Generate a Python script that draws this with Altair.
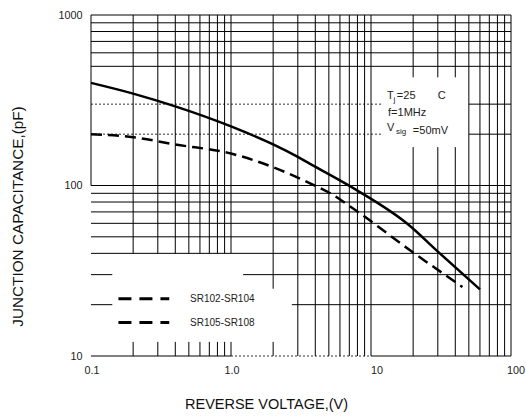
import altair as alt
import pandas as pd

# ---- curves (reverse voltage V, junction capacitance pF) ----
v_a = [0.1, 0.2, 0.4, 1.0, 2.0, 3.0, 3.67, 7.9, 18, 31, 60]
c_a = [400, 346, 291, 222, 174, 147, 134, 94, 60, 40, 24.6]
v_b = [0.1, 0.2, 0.4, 1.0, 2.0, 3.67, 5.0, 7.5, 19, 45]
c_b = [200, 192, 174, 154, 128, 103, 91, 73, 41.7, 25.4]

# ---- tick labels ----
x_tick_v = [0.1, 1, 10, 100]
x_tick_lab = ["0.1", "1.0", "10", "100"]
x_tick_align = ["center", "center", "left", "right"]

# ---- grid segments (data units) ----
h_c    = [1000, 900, 800, 700, 600, 500, 100, 90, 80, 70, 60, 50, 40,
          300, 200, 30, 30, 20, 20, 10, 10]
h_from = [0.1] * 13 + [50, 50, 0.1, 1.22, 0.1, 2.72, 0.1, 10]
h_to   = [100] * 13 + [100, 100, 0.142, 100, 0.142, 100, 1.0, 100]

hd_c    = [300, 200, 10]
hd_from = [0.1, 0.1, 1.0]
hd_to   = [12, 12, 10]

full_v = [3, 4, 5, 6, 7, 8, 9, 10, 50, 60, 70, 80, 90, 100]
short_v = [0.2, 0.3, 0.4, 0.5, 0.6, 0.7, 0.8, 0.9, 1.0]
vg_v = full_v + [0.1] + short_v + short_v + [2, 2] + [20, 30, 40] * 2
vg_from = [10] * len(full_v) + [100] + [40] * 9 + [10] * 9 + [24.8, 10] + [10] * 3 + [431] * 3
vg_to = [1000] * len(full_v) + [1000] + [1000] * 9 + [12.1] * 9 + [1000, 12.1] + [168] * 3 + [1000] * 3

# ---- legend ----
leg_labels = ["SR102-SR104", "SR105-SR108"]
leg_c = [21.7, 15.7]
leg_v1, leg_v2, leg_vt = 0.157, 0.362, 0.51

# ---- annotation ----
ann_text = ["T", "j", "=25", "C", "f=1MHz", "V", "sig", "=50mV"]
ann_v = [13.0, 14.5, 15.3, 30.0, 13.24, 13.0, 15.1, 19.9]
ann_c = [320, 307, 320, 320, 255.6, 210, 201, 199.7]
ann_s = [11, 8, 11, 11, 11, 11, 8, 11]

FONT = "Liberation Sans"
XS = alt.Scale(type="log", domain=[0.1, 100], nice=False)
YS = alt.Scale(type="log", domain=[10, 1000], nice=False)

X_AX = alt.Axis(
    values=[0.1, 1, 10, 100], labels=False,
    ticks=False, domain=False, grid=False,
    title="REVERSE VOLTAGE,(V)", titleFont=FONT, titleFontSize=14.5,
    titleFontWeight="normal", titleColor="#111",
    titleX=175, titleY=48, titleAlign="center", titleBaseline="middle",
)
Y_AX = alt.Axis(
    values=[10, 100, 1000],
    labelExpr="datum.value < 50 ? '10' : datum.value < 500 ? '100' : '1000'",
    labelFlush=False, ticks=False, domain=False, grid=False,
    labelPadding=9, labelFontSize=10.8, labelFont=FONT, labelColor="#222",
    title="JUNCTION CAPACITANCE,(pF)", titleFont=FONT, titleFontSize=15.3,
    titleFontWeight="normal", titleColor="#111", titleAngle=270,
    titleX=-74, titleY=201, titleAlign="center", titleBaseline="middle",
)


def X(f):
    return alt.X(f, type="quantitative", scale=XS, axis=X_AX)


def Y(f):
    return alt.Y(f, type="quantitative", scale=YS, axis=Y_AX)


hgrid = alt.Chart(pd.DataFrame({"c": h_c, "a": h_from, "b": h_to})).mark_rule(
    color="black", strokeWidth=1
).encode(x=X("a"), x2="b", y=Y("c"))

hdot = alt.Chart(pd.DataFrame({"c": hd_c, "a": hd_from, "b": hd_to})).mark_rule(
    color="#333", strokeWidth=1, strokeDash=[2, 2]
).encode(x=X("a"), x2="b", y=Y("c"))

vgrid = alt.Chart(pd.DataFrame({"v": vg_v, "a": vg_from, "b": vg_to})).mark_rule(
    color="black", strokeWidth=1
).encode(x=X("v"), y=Y("a"), y2="b")

curve_a = alt.Chart(pd.DataFrame({"v": v_a, "c": c_a})).mark_line(
    color="black", strokeWidth=2.5, interpolate="monotone"
).encode(x=X("v"), y=Y("c"))

curve_b = alt.Chart(pd.DataFrame({"v": v_b, "c": c_b})).mark_line(
    color="black", strokeWidth=2.5, strokeDash=[11, 6], interpolate="monotone"
).encode(x=X("v"), y=Y("c"))

leg_df = pd.DataFrame({"label": leg_labels, "c": leg_c,
                       "a": [leg_v1] * 2, "b": [leg_v2] * 2, "t": [leg_vt] * 2})
leg_rules = alt.Chart(leg_df).mark_rule(
    color="black", strokeWidth=3, strokeDash=[13, 8]
).encode(x=X("a"), x2="b", y=Y("c"))
leg_text = alt.Chart(leg_df).mark_text(
    align="left", baseline="middle", font=FONT, fontSize=10, color="#222"
).encode(x=X("t"), y=Y("c"), text="label:N")

ann = alt.Chart(pd.DataFrame({"t": ann_text, "v": ann_v, "c": ann_c, "s": ann_s})).mark_text(
    align="left", baseline="alphabetic", font=FONT, color="#222"
).encode(x=X("v"), y=Y("c"), text="t:N", size=alt.Size("s:Q", scale=None, legend=None))

xl_df = pd.DataFrame({"v": x_tick_v, "lab": x_tick_lab, "al": x_tick_align, "c": [10] * 4})
xl_layers = []
for al, dx in [("center", 1), ("left", 0), ("right", 14)]:
    xl_layers.append(
        alt.Chart(xl_df).transform_filter(alt.datum.al == al).mark_text(
            align=al, baseline="middle", font=FONT, fontSize=10.8, color="#222", dx=dx, dy=15
        ).encode(x=X("v"), y=Y("c"), text="lab:N")
    )

chart = alt.layer(hgrid, hdot, vgrid, curve_a, curve_b, leg_rules, leg_text, ann, *xl_layers).properties(
    width=420, height=341,
    autosize=alt.AutoSizeParams(type="none"),
    padding={"left": 91, "top": 15, "right": 15, "bottom": 60},
    background="white",
).configure_view(strokeWidth=0)

chart.save("out.html", embed_options={"renderer": "svg", "actions": False})
